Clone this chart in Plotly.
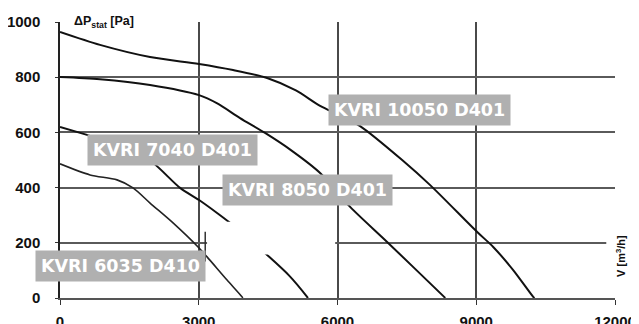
import plotly.graph_objects as go

# Fan curves: airflow V [m3/h] vs static pressure dP [Pa]
v_10050 = [0, 865, 1947, 3007, 3742, 4478, 5100, 5624, 6050, 6489, 7398, 8004, 9021, 9367, 9799, 10232, 10260]
p_10050 = [964, 917, 873, 848, 826, 797, 752, 696, 662, 623, 500, 409, 239, 185, 101, 4, 0]

v_8050 = [0, 865, 1947, 3007, 3400, 3893, 4434, 5000, 5624, 6273, 7073, 8306, 8330]
p_8050 = [801, 793, 772, 735, 705, 652, 598, 535, 453, 330, 203, 4, 0]

v_7040 = [0, 584, 1000, 1500, 2012, 2596, 3007, 3396, 3655, 4100, 4478, 4950, 5343, 5360]
p_7040 = [620, 591, 570, 535, 489, 399, 355, 308, 275, 212, 156, 82, 4, 0]

v_6035 = [0, 649, 1233, 1579, 1947, 2444, 3007, 3180, 3612, 3937, 3950]
p_6035 = [486, 446, 428, 399, 344, 272, 181, 149, 65, 4, 0]

series_names = ["KVRI 10050 D401", "KVRI 8050 D401", "KVRI 7040 D401", "KVRI 6035 D410"]
label_x = [7766, 5354, 2434, 1309]
label_y = [681, 391, 536, 116]

x_ticks = [0, 3000, 6000, 9000, 12000]
y_ticks = [0, 200, 400, 600, 800, 1000]

fig = go.Figure()
for vx, py, w, c in [(v_10050, p_10050, 2.0, "#111111"),
                     (v_8050, p_8050, 2.0, "#111111"),
                     (v_7040, p_7040, 2.0, "#111111"),
                     (v_6035, p_6035, 1.6, "#222222")]:
    fig.add_trace(go.Scatter(x=vx, y=py, mode="lines", line=dict(color=c, width=w, shape="spline", smoothing=0.8),
                             showlegend=False, hoverinfo="skip"))

# white patch (scan artifact)
fig.add_shape(type="rect", xref="x", yref="y", x0=3180, x1=5950, y0=158, y1=276,
              fillcolor="white", line=dict(width=0), layer="above")
fig.add_shape(type="line", xref="x", yref="y", x0=3140, x1=3140, y0=132, y1=240,
              line=dict(color="#333333", width=1.5), layer="above")

for name, lx, ly in zip(series_names, label_x, label_y):
    fig.add_annotation(x=lx, y=ly, xref="x", yref="y", text=name, showarrow=False,
                       font=dict(family="DejaVu Sans", size=17.5, color="white", weight=700),
                       bgcolor="#b0b0b0", borderpad=5)

fig.add_annotation(x=230, y=1000, xref="x", yref="y", xanchor="left", yanchor="middle",
                   text="ΔP<sub>stat</sub> [Pa]", showarrow=False,
                   font=dict(family="Liberation Sans", size=12.5, color="#111", weight=700),
                   bgcolor="white", borderpad=2)
fig.add_annotation(x=1.0105, y=0.152, xref="paper", yref="paper", xanchor="center", yanchor="middle",
                   text="V [m<sup>3</sup>/h]", textangle=-90, showarrow=False,
                   font=dict(family="Liberation Sans", size=11, color="#111", weight=700),
                   bgcolor="white", borderpad=7)

fig.update_xaxes(range=[0, 12000], tickvals=x_ticks, ticktext=[str(t) for t in x_ticks],
                 automargin=False,
                 showgrid=True, gridcolor="#4a4a4a", gridwidth=1.5, zeroline=False,
                 showline=True, linecolor="#555", linewidth=1.5, ticks="outside", ticklen=5,
                 tickcolor="#333", ticklabelstandoff=4,
                 tickfont=dict(family="Liberation Sans", size=15, color="#111", weight=700))
fig.update_yaxes(range=[0, 1000], tickvals=y_ticks, ticktext=[str(t) for t in y_ticks],
                 automargin=False,
                 showgrid=True, gridcolor="#5a5a5a", gridwidth=1.5, zeroline=False,
                 showline=True, linecolor="#222", linewidth=1.5, ticks="outside", ticklen=3,
                 tickcolor="#333", ticklabelstandoff=12,
                 tickfont=dict(family="Liberation Sans", size=15, color="#111", weight=700))

# page body has an 8px offset, so the figure is 8px smaller than the window
fig.update_layout(width=631, height=316, margin=dict(l=52, r=24, t=14, b=26),
                  plot_bgcolor="white", paper_bgcolor="white")
fig.write_html("out.html")
